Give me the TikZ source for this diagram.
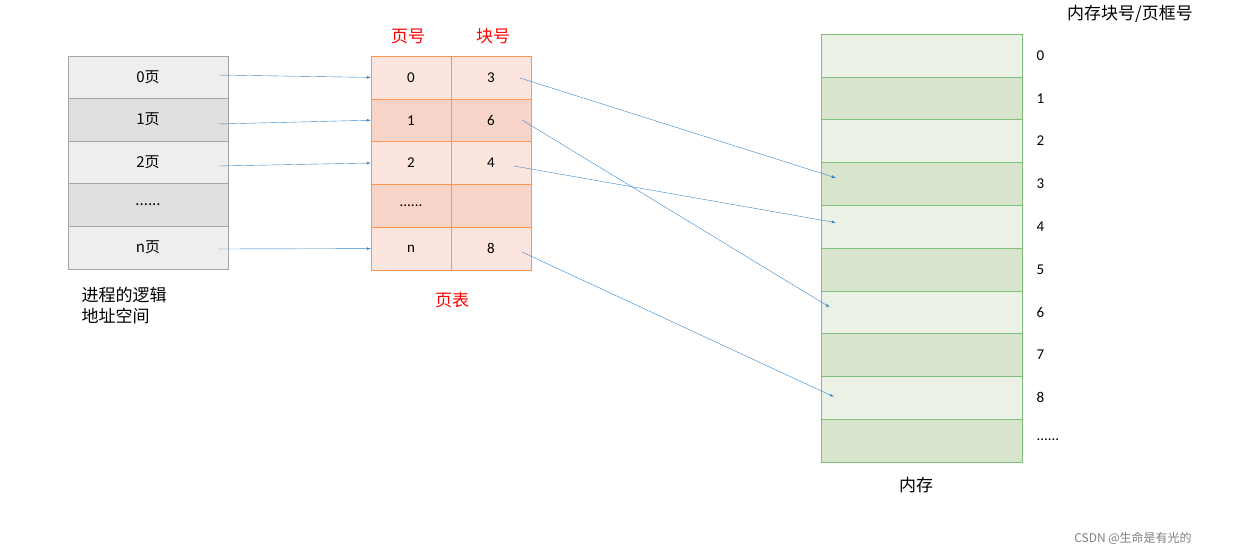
\documentclass[tikz,border=0pt]{standalone}
\usepackage{fontspec}
\setmainfont{Carlito}
\newfontfamily\cjk{Noto Sans CJK SC}
\begin{document}
\begin{tikzpicture}[x=1pt,y=-1pt,
 lc/.style={draw=gray!70,minimum width=160pt,minimum height=42.6pt,inner sep=0,font=\cjk\fontsize{15}{15}\selectfont},
 pc/.style={draw=orange!80!red!70,minimum width=80pt,minimum height=42.8pt,inner sep=0,font=\fontsize{15}{15}\selectfont},
 mc/.style={draw=green!50!black!50,minimum width=201pt,minimum height=42.8pt,inner sep=0},
 lab/.style={font=\fontsize{15}{15}\selectfont},
 arr/.style={draw=blue!45!cyan!60!gray,-latex,thin}]
\useasboundingbox (0,0) rectangle (1243,558);
\definecolor{lg}{HTML}{EEEEEE}\definecolor{dg}{HTML}{E0E0E0}
\definecolor{lp}{HTML}{FBE5DE}\definecolor{dp}{HTML}{F8D4C8}
\definecolor{lgr}{HTML}{EBF1E5}\definecolor{dgr}{HTML}{D8E4CC}
% left
\node[lc,fill=lg] (l0) at (148,77) {0页};
\node[lc,fill=dg] (l1) at (148,119.6) {1页};
\node[lc,fill=lg] (l2) at (148,162.2) {2页};
\node[lc,fill=dg] (l3) at (148,204.8) {......};
\node[lc,fill=lg] (l4) at (148,247.4) {n页};
\node[font=\cjk\fontsize{17}{21}\selectfont,align=left,anchor=north west] (ln) at (78,284) {进程的逻辑\\地址空间};
% page table
\node[pc,fill=lp] (p0) at (411,77.4) {0}; \node[pc,fill=lp] (b0) at (491,77.4) {3};
\node[pc,fill=dp] (p1) at (411,120.2) {1}; \node[pc,fill=dp] (b1) at (491,120.2) {6};
\node[pc,fill=lp] (p2) at (411,163) {2}; \node[pc,fill=lp] (b2) at (491,163) {4};
\node[pc,fill=dp] (p3) at (411,205.8) {......}; \node[pc,fill=dp] (b3) at (491,205.8) {};
\node[pc,fill=lp] (p4) at (411,248.6) {n}; \node[pc,fill=lp] (b4) at (491,248.6) {8};
\node[font=\cjk\fontsize{17}{17}\selectfont,text=red] (h1) at (408,36) {页号};
\node[font=\cjk\fontsize{17}{17}\selectfont,text=red] (h2) at (493,36) {块号};
\node[font=\cjk\fontsize{17}{17}\selectfont,text=red] (pt) at (452,300) {页表};
% memory
\foreach \i in {0,...,9}{
 \pgfmathsetmacro\yy{55.4+42.8*\i}
 \ifodd\i \node[mc,fill=dgr] (m\i) at (921.5,\yy) {}; \else \node[mc,fill=lgr] (m\i) at (921.5,\yy) {}; \fi
}
\foreach \i in {0,...,8}{ \node[lab,anchor=west] (ml\i) at (1033,55.4+42.8*\i) {\i}; }
\node[lab,anchor=west] (mld) at (1033,440) {......};
\node[font=\cjk\fontsize{17}{17}\selectfont] (mh) at (1130,14) {内存块号/页框号};
\node[font=\cjk\fontsize{17}{17}\selectfont] (mn) at (916,485) {内存};
\node[font=\cjk\fontsize{12}{12}\selectfont,text=gray] (wm) at (1133,538) {CSDN @生命是有光的};
% arrows
\coordinate (a0) at (218,75); \coordinate (a1) at (218,124);
\coordinate (a2) at (218,166); \coordinate (a4) at (218,249);
\draw[arr] (a0) -- (p0.west); \draw[arr] (a1) -- (p1.west);
\draw[arr] (a2) -- (p2.west); \draw[arr] (a4) -- (p4.west);
\coordinate (s0) at (520,78); \coordinate (s1) at (522,120);
\coordinate (s2) at (514,166); \coordinate (s4) at (522,252);
\draw[arr] (s0) -- ([xshift=15pt,yshift=6pt]m3.west);
\draw[arr] (s1) -- ([xshift=9pt,yshift=5pt]m6.west);
\draw[arr] (s2) -- ([xshift=15pt,yshift=4pt]m4.west);
\draw[arr] (s4) -- ([xshift=13pt,yshift=1pt]m8.west);
\end{tikzpicture}
\end{document}
